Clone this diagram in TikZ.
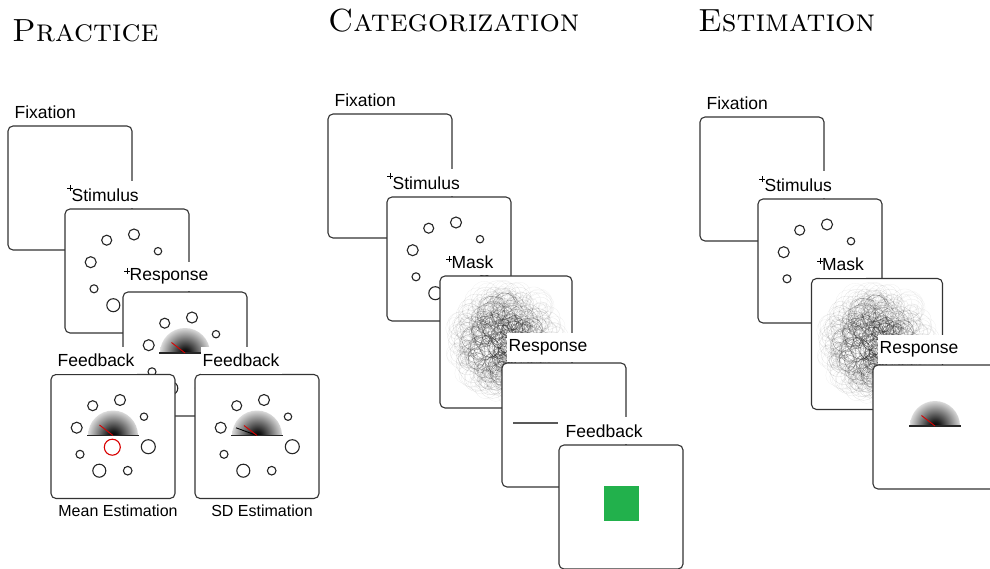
\documentclass[tikz,border=0pt]{standalone}
\usepackage{fontspec}
\newfontfamily\labelfont{Liberation Sans}
\usetikzlibrary{positioning,calc}

\definecolor{okgreen}{RGB}{34,177,76}
\pgfdeclareradialshading{meterfade}{\pgfpoint{0bp}{0bp}}{color(0bp)=(black); color(4bp)=(black!90); color(25bp)=(white); color(50bp)=(white)}

% stimulus circles round a screen centre (optional: how many)
\newcommand{\dotring}[2][8]{%
	\foreach \dx/\dy/\r [count=\k] in {-20.3/-30.8/5,7/-36.5/5.5,31/-19.8/3.7,-36.3/-8.8/5.5,35.3/10.2/7,-33/17.8/4,14.7/34.2/4.3,-13.7/34.2/6.5}
		{\ifnum\k>#1\else\draw[stimdot] ($(#2)+(\dx,\dy)$) circle (\r);\fi}}
% half disc response scale
\newcommand{\meter}[1]{%
	\begin{scope}
		\clip ($(#1)+(-25,-1)$) arc[start angle=180,end angle=360,radius=25] -- cycle;
		\shade[shading=meterfade] ($(#1)+(0,-1)$) circle (29);
	\end{scope}
	\draw[scalebase] ($(#1)+(-26,-1)$) -- ($(#1)+(26,-1)$);}
\newcommand{\fixcross}[1]{\draw[fixmark] ($(#1)+(-3,0)$) -- ($(#1)+(3,0)$) ($(#1)+(0,-3)$) -- ($(#1)+(0,3)$);}
% mask texture
\newcommand{\scribble}[1]{%
	\begin{scope}
	\clip ($(#1.south west)+(1.5,-1.5)$) rectangle ($(#1.north east)+(-1.5,1.5)$);
	\pgfmathsetseed{5}
	\foreach \i in {1,...,460}{
		\pgfmathsetmacro\ang{360*rnd}
		\pgfmathsetmacro\dst{52*sqrt(rnd)}
		\pgfmathsetmacro\rad{4+10*rnd}
		\pgfmathsetmacro\op{0.5*(1-\dst/58)}
		\draw[black,line width=0.3pt,draw opacity=\op] ($(#1)+(\ang:\dst)$) circle (\rad);
	}
	\end{scope}}

\begin{document}
\begin{tikzpicture}[x=1pt,y=-1pt,
	screen/.style={draw=black!80,line width=1.1pt,fill=white,rounded corners=5pt,minimum size=124pt,inner sep=0pt},
	cue/.style={fill=white,inner xsep=2pt,inner ysep=7pt,font=\labelfont\fontsize{17.5}{20}\selectfont},
	subcap/.style={font=\labelfont\fontsize{16}{19}\selectfont,inner sep=0pt},
	heading/.style={anchor=base west,inner sep=0pt,font=\fontsize{32}{36}\selectfont\scshape},
	stimdot/.style={black!85,line width=1.1pt},
	scalebase/.style={black!85,line width=1.1pt},
	needle/.style={red!85!black,line width=0.9pt},
	fixmark/.style={black,line width=0.7pt}]
	\useasboundingbox (0,0) rectangle (990,569);
	\clip (0,0) rectangle (990,569);

	\node[heading] (tprac) at (12,42) {Practice};
	\node[heading] (tcat) at (328,32) {Categorization};
	\node[heading] (test) at (698,32) {Estimation};

	%practice
	\node[screen] (pfix) at (70,188) {};
	\node[cue,above right=0pt and 5pt of pfix.north west] (pfixcue) {Fixation};
	\node[screen] (pstim) at (127,271) {};
	\node[cue,above right=0pt and 5pt of pstim.north west] (pstimcue) {Stimulus};
	\fixcross{pfix}
	\dotring{pstim}
	\node[screen] (presp) at (185,354) {};
	\node[cue,above right=0pt and 5pt of presp.north west] (prespcue) {Response};
	\fixcross{pstim}
	\dotring{presp}
	\meter{presp}
	\draw[needle] ($(presp)+(0,-1)$) -- ++(-13.5,-10.5);
	\node[screen] (pfbm) at (113,436.5) {};
	\node[screen] (pfbs) at (257,436.5) {};
	\node[cue,above right=0pt and 5pt of pfbm.north west] (pfbmcue) {Feedback};
	\node[cue,above right=0pt and 6pt of pfbs.north west] (pfbscue) {Feedback};
	\dotring{pfbm}
	\meter{pfbm}
	\draw[needle] ($(pfbm)+(0,-1)$) -- ++(-13.5,-10.5);
	\draw[needle,line width=1.1pt] ($(pfbm)+(-0.7,10.7)$) circle (8);
	\dotring{pfbs}
	\meter{pfbs}
	\draw[black,line width=0.9pt] ($(pfbs)+(0,-1)$) -- ++(-21,-7.7);
	\draw[needle] ($(pfbs)+(0,-1)$) -- ++(-13,-10);
	\node[subcap,below=6pt of pfbm,xshift=5pt] (pmeancap) {Mean Estimation};
	\node[subcap,below=6pt of pfbs,xshift=5pt] (psdcap) {SD Estimation};

	%categorization
	\node[screen] (cfix) at (390,176) {};
	\node[cue,above right=0pt and 5pt of cfix.north west] (cfixcue) {Fixation};
	\node[screen] (cstim) at (449,259) {};
	\node[cue,above right=0pt and 4pt of cstim.north west] (cstimcue) {Stimulus};
	\fixcross{cfix}
	\dotring{cstim}
	\node[screen,minimum size=132pt] (cmask) at (506,342) {};
	\node[cue,above right=0pt and 10pt of cmask.north west] (cmaskcue) {Mask};
	\fixcross{cstim}
	\scribble{cmask}
	\node[screen] (cresp) at (564,425) {};
	\node[cue,above right=0pt and 5pt of cresp.north west] (crespcue) {Response};
	\draw[black!65,line width=1.2pt] ($(cresp)+(-51,-2)$) -- ($(cresp)+(-6,-2)$);
	\node[screen] (cfb) at (621,507) {};
	\node[cue,above right=0pt and 5pt of cfb.north west] (cfbcue) {Feedback};
	\fill[okgreen] ($(cfb)+(-17.5,-21)$) rectangle ++(35,35);

	%estimation
	\node[screen] (efix) at (762,179) {};
	\node[cue,above right=0pt and 5pt of efix.north west] (efixcue) {Fixation};
	\node[screen] (estim) at (820,261) {};
	\node[cue,above right=0pt and 5pt of estim.north west] (estimcue) {Stimulus};
	\fixcross{efix}
	\dotring[7]{estim}
	\node[screen,minimum size=131pt] (emask) at (877,344) {};
	\node[cue,above right=0pt and 9pt of emask.north west] (emaskcue) {Mask};
	\fixcross{estim}
	\scribble{emask}
	\node[screen] (eresp) at (935,427) {};
	\node[cue,above right=0pt and 5pt of eresp.north west] (erespcue) {Response};
	\meter{eresp}
	\draw[needle] ($(eresp)+(0,-1)$) -- ++(-13.5,-10.5);
\end{tikzpicture}
\end{document}
